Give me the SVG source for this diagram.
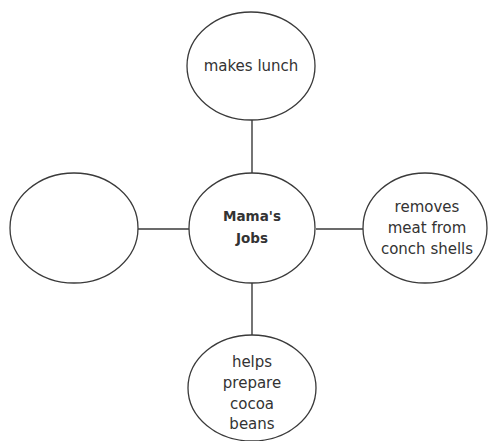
<svg xmlns="http://www.w3.org/2000/svg" width="488" height="441" viewBox="0 0 488 441">
<style>
.n{fill:#fff;stroke:#3a3a3a;stroke-width:1.3}
.c line{stroke:#3a3a3a;stroke-width:1.4}
text{font-family:"DejaVu Sans",sans-serif;font-size:15px;fill:#333;text-anchor:middle}
.b{font-weight:bold;font-size:13.5px}
</style>
<rect width="488" height="441" fill="#fff"/>
<g id="connectors" class="c">
<line x1="252" y1="120" x2="252" y2="173"/>
<line x1="252" y1="283" x2="252" y2="335"/>
<line x1="138" y1="229" x2="189" y2="229"/>
<line x1="316" y1="229" x2="363" y2="229"/>
</g>
<g id="center">
<ellipse class="n" cx="252" cy="228" rx="63" ry="55"/>
<text class="b" x="252" y="221">Mama's</text>
<text class="b" x="252" y="243">Jobs</text>
</g>
<g id="top">
<ellipse class="n" cx="251" cy="66" rx="64" ry="54"/>
<text x="251" y="71">makes lunch</text>
</g>
<g id="left">
<ellipse class="n" cx="74" cy="228" rx="64" ry="55"/>
</g>
<g id="right">
<ellipse class="n" cx="425" cy="228" rx="62" ry="55"/>
<text x="427" y="212">removes</text>
<text x="427" y="233">meat from</text>
<text x="427" y="254">conch shells</text>
</g>
<g id="bottom">
<ellipse class="n" cx="252" cy="388" rx="64" ry="53"/>
<text x="252" y="367">helps</text>
<text x="252" y="388">prepare</text>
<text x="252" y="409">cocoa</text>
<text x="252" y="429">beans</text>
</g>
</svg>
